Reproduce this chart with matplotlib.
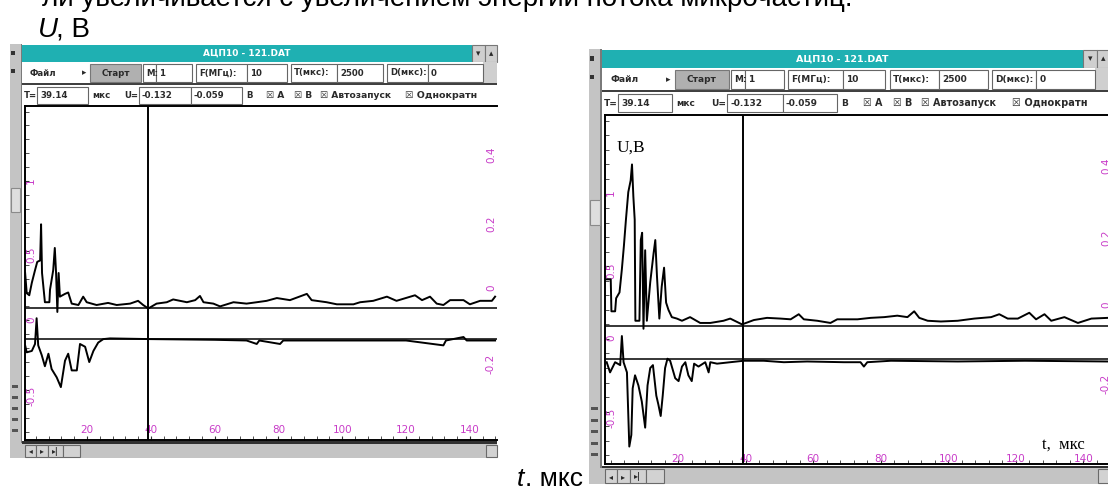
import matplotlib.pyplot as plt
from matplotlib.patches import Rectangle
from matplotlib.ticker import MultipleLocator

plt.rcParams['axes.unicode_minus'] = False

#--------------------------------------------#
#   DATA  (t in мкс, U in В on the left scale)
#--------------------------------------------#

# left screen, channel A (upper trace)
t_a1 = [0.6, 1.1, 1.9, 2.7, 3.7, 4.4, 5.3, 5.6, 5.9, 6.8, 8.2, 8.4, 9.4, 9.9, 10.3,
        10.7, 11.1, 11.5, 13.1, 14.1, 15.2, 17.3, 18.8, 19.9, 23.0, 26.6, 29.3, 33.5,
        36.0, 37.6, 39.2, 41.8, 45.0, 47.0, 51.3, 53.9, 55.4, 56.5, 59.6, 61.7, 65.9,
        70.0, 73.2, 76.3, 79.5, 83.6, 88.9, 90.4, 95.1, 98.3, 103.5, 105.6, 109.7,
        114.0, 117.0, 122.8, 125.0, 127.5, 129.6, 131.7, 133.8, 138.0, 140.0, 143.2,
        146.9, 147.9]
u_a1 = [0.34, 0.195, 0.18, 0.27, 0.36, 0.42, 0.43, 0.69, 0.34, 0.13, 0.13, 0.22, 0.36,
        0.52, 0.34, 0.06, 0.34, 0.17, 0.19, 0.20, 0.12, 0.11, 0.17, 0.13, 0.11, 0.125,
        0.11, 0.12, 0.14, 0.11, 0.085, 0.12, 0.13, 0.15, 0.13, 0.145, 0.175, 0.13, 0.12,
        0.10, 0.13, 0.12, 0.13, 0.14, 0.16, 0.145, 0.19, 0.145, 0.13, 0.115, 0.115, 0.13,
        0.14, 0.17, 0.14, 0.18, 0.145, 0.17, 0.12, 0.11, 0.145, 0.145, 0.115, 0.14, 0.14,
        0.17]

# left screen, channel B (lower trace)
t_b1 = [0.6, 1.1, 2.7, 3.7, 4.2, 4.7, 5.8, 6.8, 7.9, 8.9, 10.5, 11.8, 13.1, 14.1, 15.2,
        16.8, 17.8, 19.4, 20.7, 22.0, 23.5, 25.1, 27.2, 40, 60, 70, 73.2, 74, 80.5, 81.5,
        100, 120, 131.7, 132.5, 138.0, 139, 147.9]
u_b1 = [-0.18, -0.23, -0.22, -0.17, 0.015, -0.18, -0.25, -0.33, -0.24, -0.35, -0.41,
        -0.48, -0.29, -0.24, -0.36, -0.36, -0.17, -0.19, -0.30, -0.22, -0.16, -0.135,
        -0.13, -0.135, -0.14, -0.145, -0.17, -0.145, -0.17, -0.145, -0.145, -0.145,
        -0.18, -0.145, -0.12, -0.145, -0.145]

# right screen, channel A
t_a2 = [-1.2, 0.0, 0.2, 1.3, 1.6, 2.6, 3.3, 3.9, 4.5, 5.2, 5.9, 6.3, 6.7, 7.1, 7.3, 8.5,
        8.9, 9.3, 9.7, 10.2, 10.7, 11.7, 12.7, 13.2, 13.7, 14.4, 15.1, 15.8, 16.4, 17.1,
        18.1, 19.6, 21.1, 23.5, 26.5, 29.5, 33.4, 35.4, 38.9, 42.4, 46.3, 50.3, 53.3,
        55.7, 57.2, 61.2, 65.1, 67.1, 73.1, 77.0, 81.0, 84.9, 87.9, 89.9, 91.4, 93.9,
        97.8, 102.8, 107.7, 112.7, 115.1, 117.6, 120.6, 124.0, 126.0, 128.5, 130.5,
        134.4, 138.4, 142.4, 147.3]
u_a2 = [0.41, 0.41, 0.19, 0.19, 0.28, 0.32, 0.48, 0.64, 0.82, 1.01, 1.09, 1.20, 0.98,
        0.82, 0.125, 0.125, 0.68, 0.73, 0.07, 0.61, 0.125, 0.39, 0.59, 0.68, 0.43, 0.14,
        0.36, 0.49, 0.25, 0.20, 0.15, 0.14, 0.125, 0.15, 0.11, 0.11, 0.125, 0.14, 0.10,
        0.13, 0.145, 0.14, 0.135, 0.17, 0.135, 0.125, 0.11, 0.135, 0.135, 0.145, 0.15,
        0.16, 0.15, 0.19, 0.145, 0.125, 0.12, 0.125, 0.14, 0.15, 0.17, 0.14, 0.14, 0.18,
        0.135, 0.17, 0.125, 0.15, 0.11, 0.14, 0.145]

# right screen, channel B
t_b2 = [-1.2, -0.2, 1.3, 2.8, 3.3, 3.8, 4.8, 5.5, 6.1, 6.5, 7.2, 8.2, 9.2, 10.2, 10.9,
        11.7, 12.5, 13.5, 14.1, 14.8, 15.4, 16.1, 16.8, 17.6, 19.1, 20.1, 21.1, 22.1,
        23.0, 24.0, 24.7, 26.0, 28.0, 29.0, 29.5, 31.5, 35.4, 39.4, 45.3, 51.3, 58.2,
        69.1, 74.0, 75.0, 76.0, 83.0, 102.8, 122.7, 147.3]
u_b2 = [-0.16, -0.23, -0.16, -0.18, 0.02, -0.16, -0.23, -0.74, -0.66, -0.34, -0.25,
        -0.32, -0.43, -0.61, -0.32, -0.20, -0.18, -0.39, -0.45, -0.53, -0.39, -0.20,
        -0.136, -0.15, -0.27, -0.29, -0.19, -0.16, -0.25, -0.29, -0.17, -0.19, -0.16,
        -0.23, -0.16, -0.17, -0.16, -0.15, -0.15, -0.16, -0.155, -0.16, -0.16, -0.19,
        -0.16, -0.15, -0.155, -0.15, -0.155]

cursor_t = 39.14
base_a = 0.09
base_b = -0.137

x_ticks = [20, 40, 60, 80, 100, 120, 140]
yl_ticks = [-0.5, 0, 0.5, 1]
yl_labels = ['-0.5', '0', '0.5', '1']
yr_ticks = [-0.2, 0, 0.2, 0.4]
yr_labels = ['-0.2', '0', '0.2', '0.4']

#--------------------------------------------#

W, H = 1108, 487
TEAL = '#1fb0b2'
MAG = '#c83cc8'
GRAY = '#c4c4c4'

fig = plt.figure(figsize=(W / 100, H / 100), dpi=100)
bg = fig.add_axes([0, 0, 1, 1])
bg.set_xlim(0, W)
bg.set_ylim(H, 0)
bg.axis('off')


def box(x0, y0, x1, y1):
    return [x0 / W, 1 - y1 / H, (x1 - x0) / W, (y1 - y0) / H]


def chrome(X, Y, k):
    # window decoration, drawn in pixel coords of the left screen
    def rect(x0, y0, x1, y1, fc, ec='none', lw=0.8):
        bg.add_patch(Rectangle((X(x0), Y(y0)), X(x1) - X(x0), Y(y1) - Y(y0),
                               fc=fc, ec=ec, lw=lw))

    def txt(x, y, s, fs=6.2, **kw):
        bg.text(X(x), Y(y), s, fontsize=fs * k, va='center', fontweight='bold',
                color=kw.pop('color', '#2a2a2a'), **kw)

    rect(10, 44, 22, 458, GRAY)
    rect(20.5, 44, 22, 443, '#7a7a7a')
    rect(11, 51, 15, 55, '#333333')
    rect(11, 69, 15, 73, '#333333')
    rect(11, 188, 20, 212, '#dedede', ec='#8a8a8a')
    for yy in [385, 396, 407, 418, 429]:
        rect(12, yy, 18, yy + 3, '#555555')

    rect(22, 45, 472, 62, TEAL)
    txt(247, 53.5, 'АЦП10 - 121.DAT', color='white', ha='center', fs=6.5)
    rect(472, 45, 485, 62, '#cfcfcf', ec='#777777')
    rect(485, 45, 497, 62, '#cfcfcf', ec='#777777')
    txt(478.5, 53.5, '▾', ha='center')
    txt(491, 53.5, '▴', ha='center')

    rect(22, 62, 497, 84, 'white')
    rect(483, 62, 497, 84, '#cfcfcf')
    rect(22, 83, 497, 85, '#404040')
    txt(30, 73, 'Файл')
    txt(82, 73, '▸')
    rect(90, 64, 141, 82, '#b0b0b0', ec='#777777')
    txt(115.5, 73, 'Старт', ha='center')
    fields = [(143, 156, 'M:'), (156, 192, '1'), (196, 247, 'F(МГц):'), (247, 287, '10'),
              (291, 337, 'T(мкс):'), (337, 383, '2500'), (387, 428, 'D(мкс):'),
              (428, 483, '0')]
    for x0, x1, s in fields:
        rect(x0, 64, x1, 82, 'white', ec='#666666')
        txt(x0 + 3, 73, s)

    rect(22, 85, 497, 106, 'white')
    txt(24, 95.5, 'T=')
    rect(37, 86.5, 88, 104, 'white', ec='#666666')
    txt(40, 95.5, '39.14')
    txt(92, 95.5, 'мкс')
    txt(124, 95.5, 'U=')
    rect(139, 86.5, 191, 104, 'white', ec='#666666')
    txt(142, 95.5, '-0.132')
    rect(191, 86.5, 242, 104, 'white', ec='#666666')
    txt(194, 95.5, '-0.059')
    txt(246, 95.5, 'В')
    txt(266, 95.5, '☒ A', fs=6.6)
    txt(294, 95.5, '☒ B', fs=6.6)
    txt(320, 95.5, '☒ Автозапуск', fs=6.6)
    txt(405, 95.5, '☒ Однократн', fs=6.8)

    rect(22, 441, 497, 443.5, '#303030')
    rect(10, 443.5, 497, 458, GRAY)
    for x0, x1, s in [(25, 36, '◂'), (36, 48, '▸'), (48, 63, '▸|'), (63, 80, '')]:
        rect(x0, 444.5, x1, 457, '#d2d2d2', ec='#6a6a6a')
        txt((x0 + x1) / 2, 451, s, ha='center', fs=5.5)
    rect(486, 444.5, 497, 457, '#d2d2d2', ec='#6a6a6a')


def scope(px, xlim, ta, ua, tb, ub, xpad):
    ax = fig.add_axes(box(*px))
    ax.set_facecolor('white')
    ax.plot(ta, ua, color='k', lw=1.4)
    ax.plot(tb, ub, color='k', lw=1.4)
    ax.axhline(base_a, color='k', lw=1.1)
    ax.axhline(base_b, color='k', lw=1.1)
    ax.axvline(cursor_t, color='k', lw=1.4)
    ax.set_xlim(*xlim)
    ax.set_ylim(-0.86, 1.54)
    for s in ['left', 'top', 'bottom']:
        ax.spines[s].set_linewidth(1.4)
    ax.spines['right'].set_visible(False)

    ax.set_xticks(x_ticks)
    ax.set_xticklabels([str(v) for v in x_ticks])
    ax.xaxis.set_minor_locator(MultipleLocator(4))
    ax.tick_params(axis='x', which='both', direction='in', pad=xpad, labelcolor=MAG,
                   labelsize=7.5, color='#333333', length=3)
    ax.set_yticks(yl_ticks)
    ax.set_yticklabels(yl_labels)
    ax.yaxis.set_minor_locator(MultipleLocator(0.1))
    ax.tick_params(axis='y', which='both', direction='in', pad=-8, labelcolor=MAG,
                   labelsize=7.5, labelrotation=90, color='#333333', length=3)

    ar = ax.twinx()
    ar.set_ylim(-0.44, 0.53)
    ar.set_yticks(yr_ticks)
    ar.set_yticklabels(yr_labels)
    ar.tick_params(axis='y', direction='in', pad=-8, labelcolor=MAG, labelsize=7.5,
                   labelrotation=90, length=0)
    for s in ar.spines.values():
        s.set_visible(False)
    return ax


# left screen
chrome(lambda x: x, lambda y: y, 1.0)
scope((25, 106, 497, 440), (0.56, 148.5), t_a1, u_a1, t_b1, u_b1, -11)

# right screen (same program window, a bit larger, cut on the right)
chrome(lambda x: 605 + (x - 25) * 1.07, lambda y: 50 + (y - 45) * 1.05, 1.05)
scope((605, 115, 1112, 464), (-1.7, 148.5), t_a2, u_a2, t_b2, u_b2, -7.5)

fig.text(617 / W, 1 - 152 / H, 'U,В', fontsize=12.5, family='Liberation Serif')
fig.text(1042 / W, 1 - 449 / H, 't,  мкс', fontsize=12, family='Liberation Serif')

fig.text(852 / W, 1 - 6 / H, 'ли увеличивается с увеличением энергии потока микрочастиц.',
         fontsize=20, family='Liberation Sans', ha='right', va='baseline')
fig.text(38 / W, 1 - 37 / H, 'U', fontsize=20, family='Liberation Sans', style='italic',
         va='baseline')
fig.text(56 / W, 1 - 37 / H, ', В', fontsize=20, family='Liberation Sans', va='baseline')
fig.text(517 / W, 1 - 486 / H, 't', fontsize=19, family='Liberation Sans', style='italic',
         va='baseline')
fig.text(525 / W, 1 - 486 / H, '. мкс', fontsize=19, family='Liberation Sans',
         va='baseline')

fig.savefig('out.png', dpi=100)
